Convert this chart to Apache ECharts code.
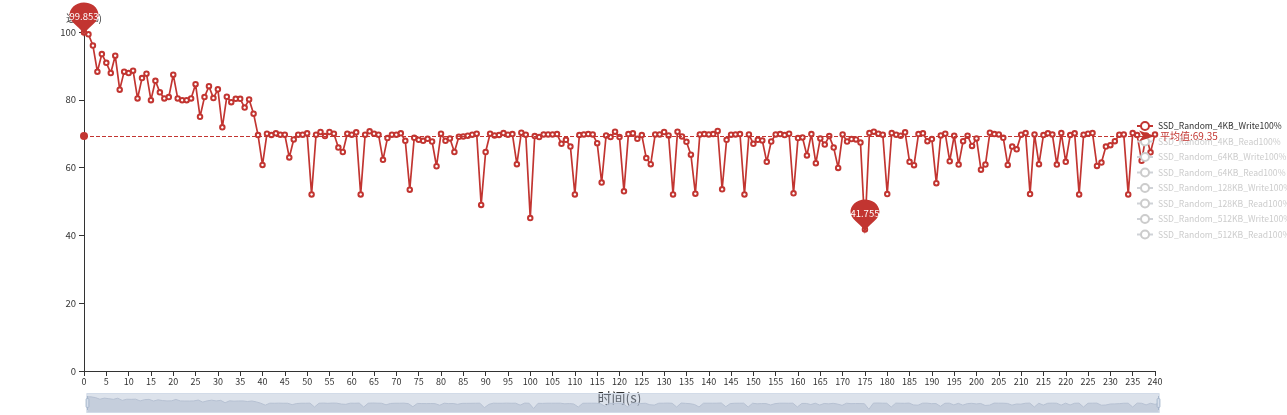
<!DOCTYPE html>
<html>
<head>
<meta charset="utf-8">
<script src="https://cdn.jsdelivr.net/npm/echarts@6/dist/echarts.min.js"></script>
<style>html,body{margin:0;padding:0;background:#fff;}#c{width:1287px;height:415px;}</style>
</head>
<body>
<div id="c"></div>
<script>
var seriesNames = [
  'SSD_Random_4KB_Write100%','SSD_Random_4KB_Read100%',
  'SSD_Random_64KB_Write100%','SSD_Random_64KB_Read100%',
  'SSD_Random_128KB_Write100%','SSD_Random_128KB_Read100%',
  'SSD_Random_512KB_Write100%','SSD_Random_512KB_Read100%'
];
var timeCategories = [];
for (var t = 0; t <= 240; t++) timeCategories.push(String(t));

var write4K = [
  99.853,99.3,96.0,88.3,93.5,90.9,87.9,93.0,83.0,88.3,
  87.9,88.6,80.4,86.4,87.7,79.9,85.6,82.2,80.4,80.8,
  87.4,80.4,79.9,79.9,80.4,84.6,75.0,80.8,84.0,80.5,
  83.1,71.9,80.9,79.3,80.3,80.3,77.7,80.1,75.9,69.6,
  60.8,70.0,69.6,70.1,69.7,69.7,63.0,68.3,69.7,69.7,
  70.1,52.1,69.7,70.5,69.3,70.5,70.0,65.9,64.6,70.0,
  69.7,70.4,52.1,69.7,70.7,70.0,69.7,62.3,68.7,69.7,
  69.7,70.1,67.9,53.5,68.8,68.2,67.9,68.5,67.7,60.4,
  70.0,67.9,68.6,64.6,69.1,69.2,69.4,69.7,70.0,49.0,
  64.6,70.0,69.5,69.6,70.2,69.7,69.9,61.0,70.3,69.7,
  45.1,69.3,69.0,69.8,69.8,69.8,69.9,67.0,68.2,66.2,
  52.1,69.6,69.8,69.9,69.8,67.2,55.6,69.5,69.0,70.6,
  69.0,53.0,69.9,70.1,68.5,69.6,62.8,61.0,69.8,69.8,
  70.5,69.5,52.1,70.6,69.2,67.6,63.8,52.3,69.8,69.9,
  69.8,69.9,70.8,53.6,68.2,69.7,69.8,69.9,52.1,69.8,
  67.0,68.2,68.0,61.7,67.7,69.8,69.9,69.6,70.0,52.4,
  68.7,68.9,63.6,69.9,61.3,68.6,66.8,69.3,65.9,59.9,
  69.8,67.7,68.4,68.3,67.4,41.755,70.2,70.6,70.0,69.7,
  52.2,70.2,69.7,69.4,70.4,61.7,60.7,69.9,70.1,67.8,
  68.4,55.4,69.5,70.0,61.9,69.4,60.9,67.8,69.4,66.4,
  68.6,59.4,60.9,70.3,69.9,69.8,68.8,60.8,66.2,65.4,
  69.7,70.2,52.2,69.8,61.0,69.6,70.1,69.8,60.9,70.2,
  61.7,69.6,70.1,52.1,69.7,70.0,70.2,60.5,61.5,66.2,
  66.6,67.8,69.7,69.8,52.1,70.2,69.6,62.0,69.5,64.5,
  69.8
];
var averageValue = 69.35;
var yTicks = { min: 0, max: 100, interval: 20 };

var font = "'Noto Sans CJK SC','Noto Sans',sans-serif";
var chart = echarts.init(document.getElementById('c'), null, { renderer: 'canvas' });

var selected = {};
seriesNames.forEach(function (n, i) { selected[n] = i === 0; });

var series = seriesNames.map(function (n, i) {
  var s = {
    name: n,
    type: 'line',
    data: i === 0 ? write4K : [],
    symbol: 'emptyCircle',
    symbolSize: 4.5,
    showSymbol: true,
    showAllSymbol: true,
    lineStyle: { width: 1.7, color: '#c23531' },
    itemStyle: { color: '#c23531', borderWidth: 1 },
    animation: false
  };
  if (i === 0) {
    s.markPoint = {
      symbol: 'pin',
      symbolSize: [48, 40],
      symbolOffset: [0, 5],
      itemStyle: { color: '#c23531' },
      label: { color: '#fff', fontSize: 9.5, fontFamily: font, overflow: 'none' },
      data: [{ type: 'max', name: '最大值' }, { type: 'min', name: '最小值' }]
    };
    s.markLine = {
      symbol: ['circle', 'arrow'],
      lineStyle: { color: '#c23531', type: 'dashed', width: 1 },
      label: { color: '#c23531', fontSize: 10, fontFamily: font, formatter: '{b}:{c}' },
      data: [{ yAxis: averageValue, name: '平均值' }]
    };
  }
  return s;
});

chart.setOption({
  animation: false,
  backgroundColor: '#fff',
  textStyle: { fontFamily: font },
  color: ['#c23531', '#2f4554', '#61a0a8', '#d48265', '#91c7ae', '#749f83', '#ca8622', '#bda29a'],
  grid: { left: 84, right: 132, top: 32, bottom: 44, containLabel: false },
  legend: {
    orient: 'vertical',
    left: 1131,
    top: 116,
    padding: 5,
    itemWidth: 16,
    itemHeight: 10,
    itemGap: 5.5,
    data: seriesNames,
    selected: selected,
    inactiveColor: '#ccc',
    textStyle: { fontSize: 8.6, color: '#333', fontFamily: font }
  },
  xAxis: {
    type: 'category',
    data: timeCategories,
    boundaryGap: false,
    name: '时间(s)',
    nameLocation: 'middle',
    nameGap: 16,
    nameTextStyle: { fontSize: 14, color: '#333' },
    axisLine: { show: true, lineStyle: { color: '#333' } },
    axisTick: { show: true, interval: 4, lineStyle: { color: '#333' } },
    axisLabel: { interval: 4, fontSize: 9, color: '#333', margin: 6 },
    splitLine: { show: false }
  },
  yAxis: {
    type: 'value',
    min: yTicks.min,
    max: yTicks.max,
    interval: yTicks.interval,
    name: '速度(%)',
    nameGap: 9,
    nameTextStyle: { fontSize: 10, color: '#333' },
    axisLine: { show: true, lineStyle: { color: '#333' } },
    axisTick: { show: true, lineStyle: { color: '#333' } },
    axisLabel: { fontSize: 9.5, color: '#333' },
    splitLine: { show: false }
  },
  dataZoom: [{
    type: 'slider',
    xAxisIndex: 0,
    start: 0,
    end: 100,
    left: 84,
    right: 130,
    top: 393,
    height: 20,
    showDetail: false,
    brushSelect: false,
    moveHandleSize: 0,
    borderColor: '#d2dbe8',
    backgroundColor: 'rgba(47,69,84,0)',
    fillerColor: 'rgba(167,183,204,0.4)',
    dataBackground: {
      lineStyle: { color: '#c0c8d6', width: 1 },
      areaStyle: { color: '#c0c8d6', opacity: 0.6 }
    },
    selectedDataBackground: {
      lineStyle: { color: '#c0c8d6', width: 1 },
      areaStyle: { color: '#c0c8d6', opacity: 0.6 }
    },
    handleSize: '70%',
    handleStyle: { color: '#d7dfec', borderColor: '#a7b7cc' }
  }],
  series: series
});
</script>
</body>
</html>
